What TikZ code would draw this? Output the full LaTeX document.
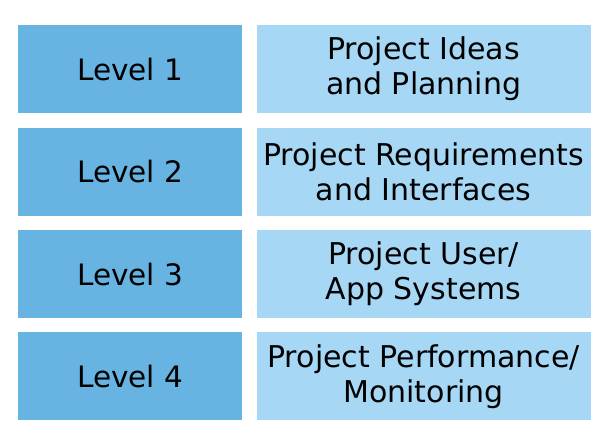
\documentclass[tikz,border=0pt]{standalone}
\usepackage{fontspec}
\setmainfont{DejaVu Sans}
\usetikzlibrary{positioning}

\definecolor{levelblue}{RGB}{103,180,227}
\definecolor{descblue}{RGB}{166,216,245}

\tikzset{
  levelbox/.style={fill=levelblue, draw=none, minimum width=224pt, minimum height=88pt,
    inner sep=0pt, align=center, font=\fontsize{29.5}{35}\selectfont},
  descbox/.style={fill=descblue, draw=none, minimum width=334pt, minimum height=88pt,
    inner sep=0pt, align=center, font=\fontsize{30}{35}\selectfont}
}

\begin{document}
\begin{tikzpicture}[x=1pt,y=1pt]
\useasboundingbox (0,0) rectangle (611,-437);
% levels
\node[levelbox, anchor=north west] (lvlOne) at (18,-25) {Level 1};
\node[levelbox, below=14pt of lvlOne] (lvlTwo) {Level 2};
\node[levelbox, below=14pt of lvlTwo] (lvlThree) {Level 3};
\node[levelbox, below=14pt of lvlThree] (lvlFour) {Level 4};
% descriptions
\node[descbox, right=14pt of lvlOne] (descOne) {Project Ideas\\and Planning};
\node[descbox, right=14pt of lvlTwo] (descTwo) {Project Requirements\\and Interfaces};
\node[descbox, right=14pt of lvlThree] (descThree) {Project User/\\App Systems};
\node[descbox, right=14pt of lvlFour] (descFour) {Project Performance/\\Monitoring};
\end{tikzpicture}
\end{document}
